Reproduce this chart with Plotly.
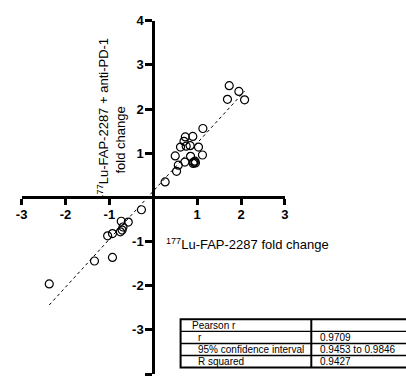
import numpy as np
import plotly.graph_objects as go

# ---- data ----
x_vals = [1.73, 1.95, 1.69, 2.08, 1.13, 0.73, 0.90, 0.70, 0.62, 0.75, 0.84, 1.03,
          0.50, 0.85, 1.12, 0.72, 0.57, 0.92, 0.95, 0.91, 0.96, 0.53, 0.27,
          -0.27, -0.73, -0.57, -0.69, -0.75, -0.71, -0.93, -1.04, -1.34, -0.93, -2.37]
y_vals = [2.53, 2.40, 2.22, 2.21, 1.56, 1.37, 1.38, 1.27, 1.14, 1.16, 1.17, 1.14,
          0.94, 0.93, 0.96, 0.80, 0.73, 0.80, 0.82, 0.77, 0.78, 0.59, 0.35,
          -0.28, -0.54, -0.56, -0.67, -0.78, -0.74, -0.82, -0.87, -1.44, -1.36, -1.96]
x_ticks = [-3, -2, -1, 1, 2, 3]
y_ticks = [-4, -3, -2, -1, 1, 2, 3, 4]
table_labels = ["Pearson r", "r", "95% confidence interval", "R squared"]
table_values = ["", "0.9709", "0.9453 to 0.9846", "0.9427"]

W, H = 406, 376
FONT = "Liberation Sans, Arial, sans-serif"

xr = [-3, 3]
yr = [-4, 4]
xdom = [16 / W, 286 / W]
ydom = [(H - 374) / H, (H - 14) / H]
xpos0 = xdom[0] + (0 - xr[0]) / (xr[1] - xr[0]) * (xdom[1] - xdom[0])
ypos0 = ydom[0] + (0 - yr[0]) / (yr[1] - yr[0]) * (ydom[1] - ydom[0])

def px(xp):
    return xp / W

def py(yp):
    return (H - yp) / H

# regression
slope, intercept = np.polyfit(x_vals, y_vals, 1)
lx = np.array([min(x_vals), max(x_vals)])
ly = slope * lx + intercept

fig = go.Figure()
fig.add_trace(go.Scatter(x=lx, y=ly, mode="lines",
                         line=dict(color="black", width=1, dash="dot"),
                         hoverinfo="skip", showlegend=False))
fig.add_trace(go.Scatter(x=x_vals, y=y_vals, mode="markers",
                         marker=dict(symbol="circle-open", size=8, color="black",
                                     line=dict(width=1.2, color="black")),
                         showlegend=False))

tickfont = dict(size=13, family=FONT, weight="bold", color="black")
fig.update_layout(
    width=W, height=H,
    margin=dict(l=0, r=0, t=0, b=0),
    paper_bgcolor="white", plot_bgcolor="white",
    font=dict(family=FONT, color="black"),
    xaxis=dict(range=xr, domain=xdom, anchor="free", position=ypos0,
               showgrid=False, zeroline=False, showline=True, linewidth=3,
               linecolor="black", ticks="outside", ticklen=6, tickwidth=2.5,
               tickcolor="black", tickvals=x_ticks,
               ticktext=[f"<b>{v}</b>" for v in x_ticks],
               tickfont=tickfont, ticklabelstandoff=-2),
    yaxis=dict(range=yr, domain=ydom, anchor="free", position=xpos0,
               showgrid=False, zeroline=False, showline=True, linewidth=3,
               linecolor="black", ticks="outside", ticklen=7, tickwidth=2.5,
               tickcolor="black", tickvals=y_ticks,
               ticktext=[f"<b>{v}</b>" for v in y_ticks],
               tickfont=tickfont, ticklabelstandoff=-1),
)

annots = []
# y title (two lines)
annots.append(dict(text="<sup>177</sup>Lu-FAP-2287 + anti-PD-1", textangle=-90,
                   xref="paper", yref="paper", x=px(99), y=py(114),
                   xanchor="center", yanchor="middle", showarrow=False,
                   font=dict(size=13, family=FONT)))
annots.append(dict(text="fold change", textangle=-90,
                   xref="paper", yref="paper", x=px(117), y=py(136),
                   xanchor="center", yanchor="middle", showarrow=False,
                   font=dict(size=13, family=FONT)))
# x title
annots.append(dict(text="<sup>177</sup>Lu-FAP-2287 fold change",
                   xref="paper", yref="paper", x=px(162), y=py(242),
                   xanchor="left", yanchor="middle", showarrow=False,
                   font=dict(size=13, family=FONT)))

# table
t_left, t_div, t_right = 179, 313, 450
row_edges = [318.3, 330.6, 342.9, 355.1, 367.4]
shapes = []
shapes.append(dict(type="rect", xref="paper", yref="paper",
                   x0=px(t_left), x1=px(t_right), y0=py(row_edges[-1]), y1=py(row_edges[0]),
                   line=dict(color="black", width=2)))
for ye in row_edges[1:-1]:
    shapes.append(dict(type="line", xref="paper", yref="paper",
                       x0=px(t_left), x1=px(t_right), y0=py(ye), y1=py(ye),
                       line=dict(color="black", width=1.3)))
shapes.append(dict(type="line", xref="paper", yref="paper",
                   x0=px(t_div), x1=px(t_div), y0=py(row_edges[-1]), y1=py(row_edges[0]),
                   line=dict(color="black", width=2)))
for i, (lab, val) in enumerate(zip(table_labels, table_values)):
    yc = (row_edges[i] + row_edges[i + 1]) / 2
    xl = 189 if i == 0 else 195
    annots.append(dict(text=lab, xref="paper", yref="paper", x=px(xl), y=py(yc),
                       xanchor="left", yanchor="middle", showarrow=False,
                       font=dict(size=10, family=FONT)))
    if val:
        annots.append(dict(text=val, xref="paper", yref="paper", x=px(320), y=py(yc),
                           xanchor="left", yanchor="middle", showarrow=False,
                           font=dict(size=10, family=FONT)))

fig.update_layout(annotations=annots, shapes=shapes)
fig.write_html("out.html")
